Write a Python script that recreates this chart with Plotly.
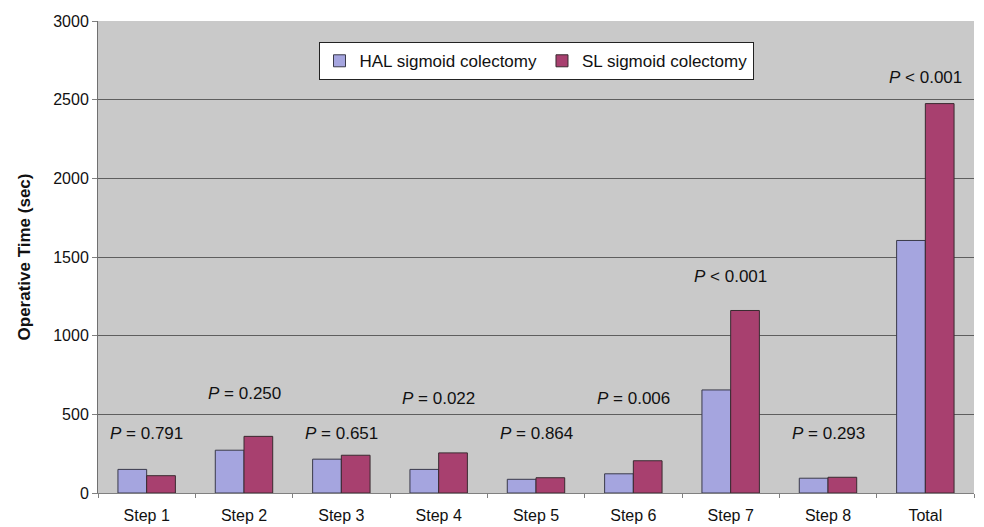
import plotly.graph_objects as go

categories = ["Step 1", "Step 2", "Step 3", "Step 4", "Step 5", "Step 6", "Step 7", "Step 8", "Total"]
hal_values = [150, 272, 215, 150, 87, 122, 655, 94, 1605]
sl_values = [110, 360, 240, 255, 97, 205, 1160, 100, 2475]
p_labels = ["= 0.791", "= 0.250", "= 0.651", "= 0.022", "= 0.864", "= 0.006", "< 0.001", "= 0.293", "< 0.001"]
p_label_y = [380, 635, 380, 598, 380, 598, 1375, 380, 2640]
y_ticks = [0, 500, 1000, 1500, 2000, 2500, 3000]

FONT = "Arial, Liberation Sans, sans-serif"

fig = go.Figure()
fig.add_trace(go.Bar(x=categories, y=hal_values, name="HAL sigmoid colectomy",
                     marker=dict(color="#A5A5DF", line=dict(color="#3a3a4a", width=1))))
fig.add_trace(go.Bar(x=categories, y=sl_values, name="SL sigmoid colectomy",
                     marker=dict(color="#A8406F", line=dict(color="#3a2a30", width=1))))

for c, lab, yv in zip(categories, p_labels, p_label_y):
    fig.add_annotation(x=c, y=yv, xref="x", yref="y", text="<i>P</i> " + lab,
                       showarrow=False, font=dict(family=FONT, size=17, color="#111"))

# page body has an 8px margin; figure sized so it fits the 984x527 window
fig.update_layout(
    width=976, height=519,
    margin=dict(l=90, r=10, t=13, b=34),
    paper_bgcolor="white",
    plot_bgcolor="#C9C9C9",
    barmode="group",
    bargap=0.41,
    bargroupgap=0,
    font=dict(family=FONT, size=16, color="#111"),
    legend=dict(orientation="h", x=0.5, y=0.955, xanchor="center", yanchor="top",
                bgcolor="white", bordercolor="#222", borderwidth=1,
                font=dict(family=FONT, size=17, color="#111"),
                itemwidth=30, tracegroupgap=0),
    xaxis=dict(showgrid=False, showline=True, linecolor="#808080", linewidth=1,
               ticks="outside", tickson="boundaries", ticklen=4, tickcolor="#808080",
               ticklabelstandoff=8, automargin=False,
               tickfont=dict(family=FONT, size=16, color="#111")),
    yaxis=dict(range=[0, 3000], tickvals=y_ticks, showgrid=True, gridcolor="#5e5e5e", gridwidth=1.3,
               showline=True, linecolor="#707070", linewidth=1, ticks="outside", ticklen=5,
               tickcolor="#808080", zeroline=False, automargin=False,
               tickfont=dict(family=FONT, size=16, color="#111")
               ,
               title=dict(text="<b>Operative Time (sec)</b>", standoff=18,
                          font=dict(family=FONT, size=17, color="#111"))),
)

fig.write_html("out.html")
